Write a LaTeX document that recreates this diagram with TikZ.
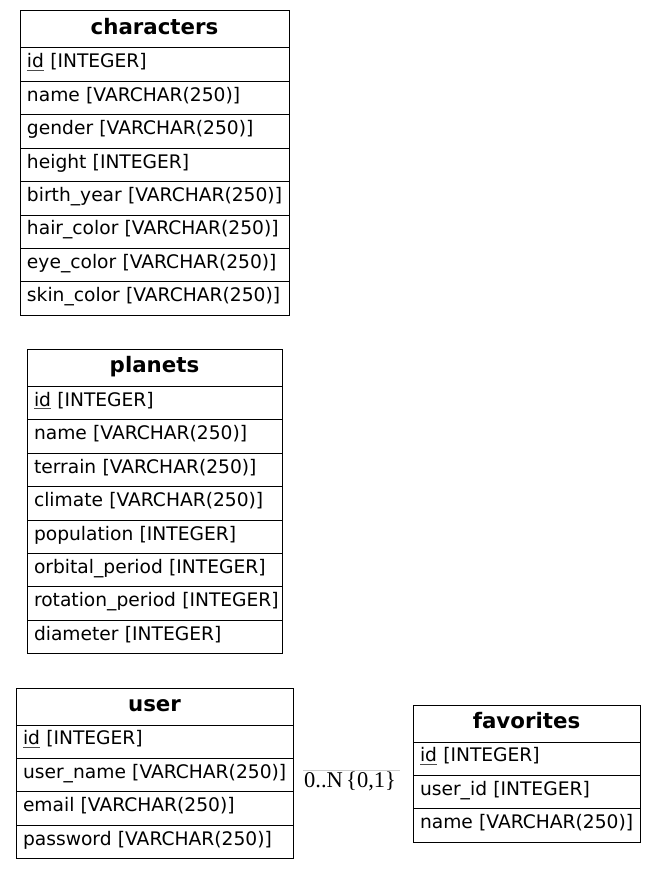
\documentclass[tikz,border=0pt]{standalone}
\usepackage{fontspec}
\setmainfont{DejaVu Sans}
\newfontfamily\lblfont{Liberation Serif}
\usetikzlibrary{calc}
\tikzset{
  tblbox/.style={draw=black, line width=1pt, inner xsep=7pt, inner ysep=0pt, outer sep=0pt,
    anchor=north west, font=\fontsize{18.67}{20}\selectfont},
  hdrbox/.style={tblbox, minimum height=37pt, align=center, text height=16.2pt, text depth=6.6pt,
    font=\fontsize{21.33}{23}\selectfont\bfseries},
  rowbox/.style={tblbox, minimum height=33.4pt, align=left, text height=14.2pt, text depth=7.8pt},
  edgeline/.style={draw=gray!40, line width=0.6pt},
  cardlbl/.style={font=\lblfont\fontsize{22.5}{24}\selectfont, inner sep=0pt, anchor=base west}
}
\newcommand\pkul[1]{\setbox0\hbox{#1}\rlap{\textcolor{black!70}{\rule[-2.8pt]{\wd0}{1pt}}}#1}
% name, x, y, text width, title, rows
\newcommand\ertable[6]{%
  \node[hdrbox, text width=#4pt] (#1-h) at (#2pt,-#3pt) {#5};
  \foreach \r [count=\i, remember=\i as \j (initially h)] in {#6} {
    \node[rowbox, text width=#4pt] (#1-\i) at (#1-\j.south west) {\mbox{\r}};
  }%
}
\begin{document}
\begin{tikzpicture}
\useasboundingbox (0,0) rectangle (656pt,-869pt);
\ertable{chars}{20}{11}{255}{characters}{%
  \pkul{id} [INTEGER],
  name [VARCHAR(250)],
  gender [VARCHAR(250)],
  height [INTEGER],
  birth\_year [VARCHAR(250)],
  hair\_color [VARCHAR(250)],
  eye\_color [VARCHAR(250)],
  skin\_color [VARCHAR(250)]}
\ertable{planets}{27}{349.5}{241}{planets}{%
  \pkul{id} [INTEGER],
  name [VARCHAR(250)],
  terrain [VARCHAR(250)],
  climate [VARCHAR(250)],
  population [INTEGER],
  orbital\_period [INTEGER],
  rotation\_period [INTEGER],
  diameter [INTEGER]}
\ertable{user}{16}{688}{263}{user}{%
  \pkul{id} [INTEGER],
  user\_name [VARCHAR(250)],
  email [VARCHAR(250)],
  password [VARCHAR(250)]}
\ertable{fav}{413}{705}{213}{favorites}{%
  \pkul{id} [INTEGER],
  user\_id [INTEGER],
  name [VARCHAR(250)]}
\coordinate (edgey) at (0,-770pt);
\draw[edgeline] ([xshift=10pt]user-h.east |- edgey) -- ([xshift=-13pt]fav-h.west |- edgey);
\node[cardlbl] (card1) at (304pt,-787pt) {0..N};
\node[cardlbl] (card2) at (346pt,-787pt) {\{0,1\}};
\end{tikzpicture}
\end{document}
